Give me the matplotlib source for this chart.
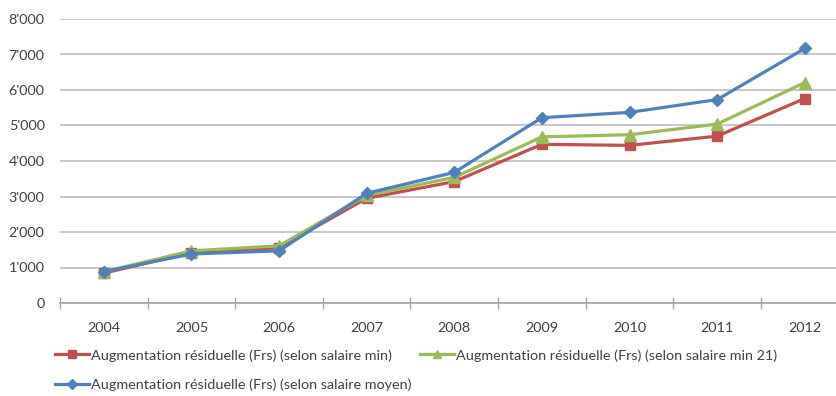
import matplotlib
matplotlib.use("Agg")
import matplotlib.pyplot as plt
from matplotlib.ticker import FuncFormatter, FixedLocator

# Données
annees = ["2004", "2005", "2006", "2007", "2008", "2009", "2010", "2011", "2012"]
salaire_min = [840, 1420, 1560, 2950, 3420, 4470, 4440, 4700, 5760]
salaire_min_21 = [880, 1470, 1610, 3030, 3540, 4680, 4740, 5040, 6210]
salaire_moyen = [885, 1380, 1470, 3090, 3680, 5220, 5370, 5730, 7170]

plt.rcParams["font.family"] = ["Lato", "DejaVu Sans"]
plt.rcParams["font.size"] = 10.4
gris_texte = "#404040"

fig = plt.figure(figsize=(8.37, 3.96), dpi=100)
ax = fig.add_axes([60 / 837, 93 / 396, 788.6 / 837, 284 / 396])

x = list(range(len(annees)))
l_min, = ax.plot(x, salaire_min, color="#C0504D", lw=2.3, marker="s", ms=7,
                 label="Augmentation résiduelle (Frs) (selon salaire min)")
l_21, = ax.plot(x, salaire_min_21, color="#9BBB59", lw=2.3, marker="^", ms=8,
                label="Augmentation résiduelle (Frs) (selon salaire min 21)")
l_moy, = ax.plot(x, salaire_moyen, color="#4F81BD", lw=2.3, marker="D", ms=6,
                 label="Augmentation résiduelle (Frs) (selon salaire moyen)")

ax.set_xlim(-0.5, len(annees) - 0.5)
ax.set_ylim(0, 8000)
ax.set_yticks(range(0, 8001, 1000))
ax.yaxis.set_major_formatter(FuncFormatter(lambda v, p: f"{int(v):,}".replace(",", "'")))
ax.set_xticks(x)
ax.set_xticklabels(annees)
ax.xaxis.set_minor_locator(FixedLocator([i - 0.5 for i in range(len(annees) + 1)]))

ax.grid(axis="y", color="#BEBEBE", lw=1.2)
ax.set_axisbelow(True)
for s in ["top", "right", "left"]:
    ax.spines[s].set_visible(False)
ax.spines["bottom"].set_color("#A6A6A6")
ax.spines["bottom"].set_linewidth(1.2)

ax.tick_params(axis="x", which="major", length=0, pad=14, colors=gris_texte)
ax.tick_params(axis="x", which="minor", direction="inout", length=9, color="#A6A6A6", width=1)
ax.tick_params(axis="y", length=0, pad=11, colors=gris_texte)

fig.legend(handles=[l_min, l_moy, l_21], loc="upper left", ncol=2,
           bbox_to_anchor=(55 / 837, 1 - 349 / 396), frameon=False,
           borderpad=0, borderaxespad=0, handlelength=2.35, handletextpad=0.15,
           columnspacing=0.6, labelspacing=1.15, labelcolor=gris_texte,
           markerscale=0.8)

fig.savefig("out.png", dpi=100)
